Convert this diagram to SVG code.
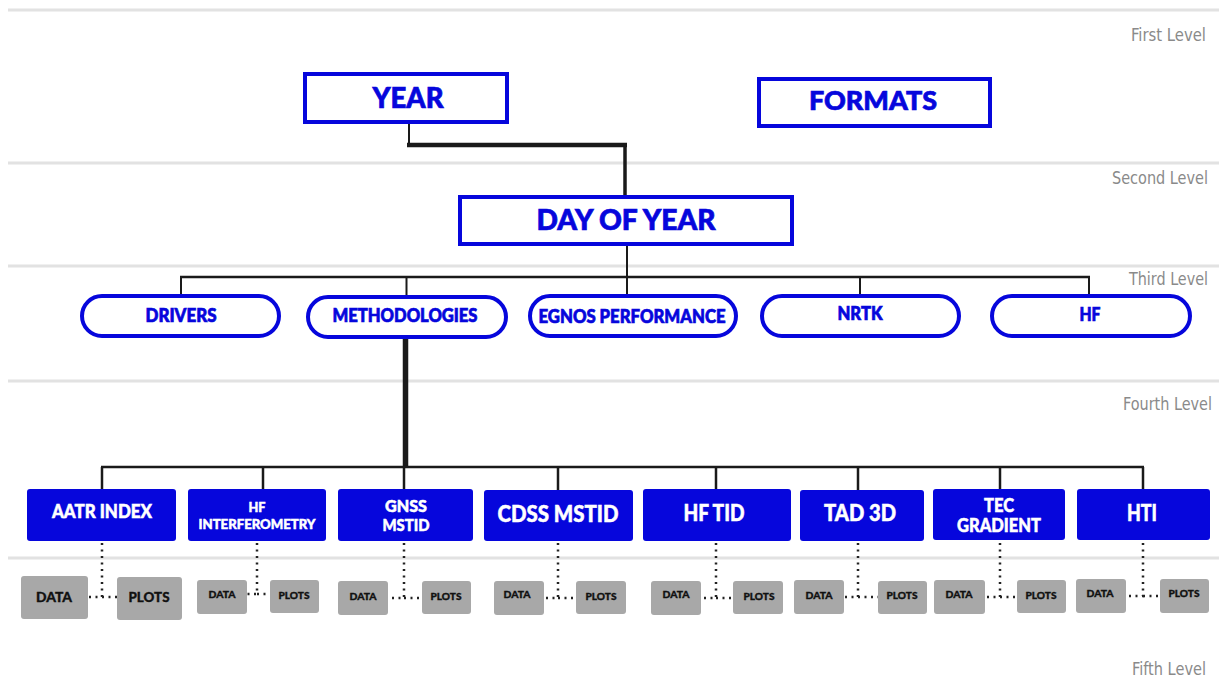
<svg xmlns="http://www.w3.org/2000/svg" width="1219" height="680" viewBox="0 0 1219 680">
<style>
.sep{stroke:#e2e2e2;stroke-width:3;fill:none}
.lvl{font-family:"Liberation Sans Narrow","DejaVu Sans Condensed","Liberation Sans",sans-serif;font-size:17px;fill:#8a8a8a}
.box{fill:#fff;stroke:#0606dc;stroke-width:4}
.t1{font-family:Lato,"Liberation Sans",sans-serif;font-weight:900;fill:#0606dc;stroke:#0606dc;stroke-width:0.7;text-anchor:middle}
.bb{fill:#0606dc}
.tw{font-family:Lato,"Liberation Sans",sans-serif;font-weight:900;fill:#fff;stroke:#fff;stroke-width:0.5;text-anchor:middle}
.gb{fill:#a8a8a8}
.tg{font-family:Lato,"Liberation Sans",sans-serif;font-weight:900;fill:#111;stroke:#111;stroke-width:0.35;text-anchor:middle}
.ln{stroke:#1a1a1a;fill:none}
.dot{stroke:#222;fill:none;stroke-width:2.5;stroke-dasharray:2 4.5}
</style>
<rect width="1219" height="680" fill="#fff"/>
<g id="separators">
<line class="sep" x1="8" y1="10" x2="1219" y2="10"/>
<line class="sep" x1="8" y1="163" x2="1219" y2="163"/>
<line class="sep" x1="8" y1="266" x2="1219" y2="266"/>
<line class="sep" x1="8" y1="381" x2="1219" y2="381"/>
<line class="sep" x1="8" y1="558" x2="1219" y2="558"/>
</g>
<g id="levels">
<text class="lvl" x="1131" y="41" textLength="75" lengthAdjust="spacingAndGlyphs">First Level</text>
<text class="lvl" x="1112" y="184" textLength="96" lengthAdjust="spacingAndGlyphs">Second Level</text>
<text class="lvl" x="1129" y="285" textLength="79" lengthAdjust="spacingAndGlyphs">Third Level</text>
<text class="lvl" x="1123" y="410" textLength="89" lengthAdjust="spacingAndGlyphs">Fourth Level</text>
<text class="lvl" x="1132" y="675" textLength="74" lengthAdjust="spacingAndGlyphs">Fifth Level</text>
</g>
<g id="connectors">
<line class="ln" x1="409" y1="122" x2="409" y2="145" style="stroke-width:2"/>
<line class="ln" x1="407" y1="145" x2="627" y2="145" style="stroke-width:4.5"/>
<line class="ln" x1="625" y1="143" x2="625" y2="196" style="stroke-width:3.5"/>
<line class="ln" x1="627" y1="245" x2="627" y2="277" style="stroke-width:2"/>
<line class="ln" x1="180" y1="277" x2="1090" y2="277" style="stroke-width:2.5"/>
<line class="ln" x1="181" y1="277" x2="181" y2="295" style="stroke-width:2"/>
<line class="ln" x1="406.5" y1="277" x2="406.5" y2="296" style="stroke-width:2"/>
<line class="ln" x1="627" y1="277" x2="627" y2="295" style="stroke-width:2"/>
<line class="ln" x1="860" y1="277" x2="860" y2="295" style="stroke-width:2"/>
<line class="ln" x1="1089" y1="277" x2="1089" y2="295" style="stroke-width:2"/>
<line class="ln" x1="405.5" y1="338" x2="405.5" y2="468" style="stroke-width:5.5"/>
<line class="ln" x1="101" y1="467" x2="1144" y2="467" style="stroke-width:2.5"/>
<line class="ln" x1="102" y1="467" x2="102" y2="489" style="stroke-width:2.5"/>
<line class="ln" x1="263" y1="467" x2="263" y2="489" style="stroke-width:2.5"/>
<line class="ln" x1="404" y1="467" x2="404" y2="489" style="stroke-width:2.5"/>
<line class="ln" x1="558" y1="467" x2="558" y2="490" style="stroke-width:2.5"/>
<line class="ln" x1="716" y1="467" x2="716" y2="490" style="stroke-width:2.5"/>
<line class="ln" x1="858" y1="467" x2="858" y2="490" style="stroke-width:2.5"/>
<line class="ln" x1="1000" y1="467" x2="1000" y2="489" style="stroke-width:2.5"/>
<line class="ln" x1="1143" y1="467" x2="1143" y2="489" style="stroke-width:2.5"/>
<polyline class="dot" points="102,543 102,597 88,597"/><line class="dot" x1="102" y1="597" x2="117" y2="597"/>
<polyline class="dot" points="257,543 257,594 247,594"/><line class="dot" x1="257" y1="594" x2="270" y2="594"/>
<polyline class="dot" points="404,543 404,598 388,598"/><line class="dot" x1="404" y1="598" x2="422" y2="598"/>
<polyline class="dot" points="558,543 558,598 544,598"/><line class="dot" x1="558" y1="598" x2="576" y2="598"/>
<polyline class="dot" points="716,543 716,598 701,598"/><line class="dot" x1="716" y1="598" x2="733" y2="598"/>
<polyline class="dot" points="858,543 858,597 844,597"/><line class="dot" x1="858" y1="597" x2="878" y2="597"/>
<polyline class="dot" points="1000,543 1000,597 985,597"/><line class="dot" x1="1000" y1="597" x2="1017" y2="597"/>
<polyline class="dot" points="1143,543 1143,596 1126,596"/><line class="dot" x1="1143" y1="596" x2="1160" y2="596"/>
</g>
<g id="year"><rect class="box" x="305" y="74" width="202" height="48"/><text class="t1" x="408" y="108" font-size="28" textLength="71" lengthAdjust="spacingAndGlyphs">YEAR</text></g>
<g id="formats"><rect class="box" x="759" y="79" width="231" height="47"/><text class="t1" x="873" y="110" font-size="27" textLength="128" lengthAdjust="spacingAndGlyphs">FORMATS</text></g>
<g id="day-of-year"><rect class="box" x="460" y="197" width="332" height="47"/><text class="t1" x="626" y="230" font-size="28" textLength="179" lengthAdjust="spacingAndGlyphs">DAY OF YEAR</text></g>
<g id="drivers"><rect class="box" x="82" y="296" width="197" height="40" rx="20"/><text class="t1" x="181" y="322" font-size="18" textLength="71" lengthAdjust="spacingAndGlyphs">DRIVERS</text></g>
<g id="methodologies"><rect class="box" x="308" y="297" width="198" height="40" rx="20"/><text class="t1" x="405" y="322" font-size="18" textLength="145" lengthAdjust="spacingAndGlyphs">METHODOLOGIES</text></g>
<g id="egnos"><rect class="box" x="530" y="296" width="206" height="40" rx="20"/><text class="t1" x="632" y="323" font-size="18" textLength="187" lengthAdjust="spacingAndGlyphs">EGNOS PERFORMANCE</text></g>
<g id="nrtk"><rect class="box" x="762" y="296" width="197" height="40" rx="20"/><text class="t1" x="860" y="320" font-size="18" textLength="45" lengthAdjust="spacingAndGlyphs">NRTK</text></g>
<g id="hf"><rect class="box" x="992" y="296" width="198" height="40" rx="20"/><text class="t1" x="1090" y="321" font-size="18" textLength="21" lengthAdjust="spacingAndGlyphs">HF</text></g>
<g id="aatr"><rect class="bb" x="27" y="489" width="149" height="52" rx="3"/><text class="tw" x="102" y="518" font-size="18" textLength="100" lengthAdjust="spacingAndGlyphs">AATR INDEX</text></g>
<g id="hf-interferometry"><rect class="bb" x="188" y="489" width="138" height="52" rx="3"/><text class="tw" x="257" y="512" font-size="14" textLength="17" lengthAdjust="spacingAndGlyphs">HF</text><text class="tw" x="257" y="529" font-size="14" textLength="117" lengthAdjust="spacingAndGlyphs">INTERFEROMETRY</text></g>
<g id="gnss-mstid"><rect class="bb" x="338" y="489" width="135" height="52" rx="3"/><text class="tw" x="406" y="512" font-size="16" textLength="42" lengthAdjust="spacingAndGlyphs">GNSS</text><text class="tw" x="406" y="531" font-size="16" textLength="47" lengthAdjust="spacingAndGlyphs">MSTID</text></g>
<g id="cdss-mstid"><rect class="bb" x="484" y="490" width="149" height="51" rx="3"/><text class="tw" x="558" y="522" font-size="22" textLength="121" lengthAdjust="spacingAndGlyphs">CDSS MSTID</text></g>
<g id="hf-tid"><rect class="bb" x="643" y="489" width="148" height="52" rx="3"/><text class="tw" x="714" y="521" font-size="22" textLength="61" lengthAdjust="spacingAndGlyphs">HF TID</text></g>
<g id="tad-3d"><rect class="bb" x="800" y="490" width="124" height="51" rx="3"/><text class="tw" x="860" y="521" font-size="22" textLength="72" lengthAdjust="spacingAndGlyphs">TAD 3D</text></g>
<g id="tec-gradient"><rect class="bb" x="933" y="489" width="132" height="51" rx="3"/><text class="tw" x="999" y="512" font-size="18" textLength="30" lengthAdjust="spacingAndGlyphs">TEC</text><text class="tw" x="999" y="532" font-size="18" textLength="84" lengthAdjust="spacingAndGlyphs">GRADIENT</text></g>
<g id="hti"><rect class="bb" x="1077" y="489" width="133" height="51" rx="3"/><text class="tw" x="1142" y="521" font-size="22" textLength="30" lengthAdjust="spacingAndGlyphs">HTI</text></g>
<g id="aatr-data"><rect class="gb" x="21" y="576" width="67" height="43" rx="3"/><text class="tg" x="54" y="602" font-size="14" textLength="36" lengthAdjust="spacingAndGlyphs">DATA</text></g>
<g id="aatr-plots"><rect class="gb" x="117" y="577" width="65" height="43" rx="3"/><text class="tg" x="149" y="602" font-size="14" textLength="41" lengthAdjust="spacingAndGlyphs">PLOTS</text></g>
<g id="hfi-data"><rect class="gb" x="197" y="580" width="50" height="34" rx="3"/><text class="tg" x="222" y="598" font-size="10" textLength="27" lengthAdjust="spacingAndGlyphs">DATA</text></g>
<g id="hfi-plots"><rect class="gb" x="270" y="580" width="49" height="33" rx="3"/><text class="tg" x="294" y="599" font-size="10" textLength="31" lengthAdjust="spacingAndGlyphs">PLOTS</text></g>
<g id="gnss-data"><rect class="gb" x="338" y="581" width="50" height="34" rx="3"/><text class="tg" x="363" y="600" font-size="10" textLength="27" lengthAdjust="spacingAndGlyphs">DATA</text></g>
<g id="gnss-plots"><rect class="gb" x="422" y="581" width="49" height="33" rx="3"/><text class="tg" x="446" y="600" font-size="10" textLength="31" lengthAdjust="spacingAndGlyphs">PLOTS</text></g>
<g id="cdss-data"><rect class="gb" x="494" y="581" width="50" height="34" rx="3"/><text class="tg" x="517" y="598" font-size="10" textLength="27" lengthAdjust="spacingAndGlyphs">DATA</text></g>
<g id="cdss-plots"><rect class="gb" x="576" y="581" width="50" height="33" rx="3"/><text class="tg" x="601" y="600" font-size="10" textLength="31" lengthAdjust="spacingAndGlyphs">PLOTS</text></g>
<g id="hftid-data"><rect class="gb" x="651" y="581" width="50" height="34" rx="3"/><text class="tg" x="676" y="598" font-size="10" textLength="27" lengthAdjust="spacingAndGlyphs">DATA</text></g>
<g id="hftid-plots"><rect class="gb" x="733" y="581" width="50" height="33" rx="3"/><text class="tg" x="759" y="600" font-size="10" textLength="31" lengthAdjust="spacingAndGlyphs">PLOTS</text></g>
<g id="tad-data"><rect class="gb" x="794" y="580" width="50" height="34" rx="3"/><text class="tg" x="819" y="599" font-size="10" textLength="27" lengthAdjust="spacingAndGlyphs">DATA</text></g>
<g id="tad-plots"><rect class="gb" x="878" y="581" width="49" height="33" rx="3"/><text class="tg" x="902" y="599" font-size="10" textLength="31" lengthAdjust="spacingAndGlyphs">PLOTS</text></g>
<g id="tec-data"><rect class="gb" x="934" y="580" width="51" height="34" rx="3"/><text class="tg" x="959" y="598" font-size="10" textLength="27" lengthAdjust="spacingAndGlyphs">DATA</text></g>
<g id="tec-plots"><rect class="gb" x="1017" y="580" width="49" height="33" rx="3"/><text class="tg" x="1041" y="599" font-size="10" textLength="31" lengthAdjust="spacingAndGlyphs">PLOTS</text></g>
<g id="hti-data"><rect class="gb" x="1076" y="579" width="50" height="34" rx="3"/><text class="tg" x="1100" y="597" font-size="10" textLength="27" lengthAdjust="spacingAndGlyphs">DATA</text></g>
<g id="hti-plots"><rect class="gb" x="1160" y="579" width="49" height="34" rx="3"/><text class="tg" x="1184" y="597" font-size="10" textLength="31" lengthAdjust="spacingAndGlyphs">PLOTS</text></g>
</svg>
